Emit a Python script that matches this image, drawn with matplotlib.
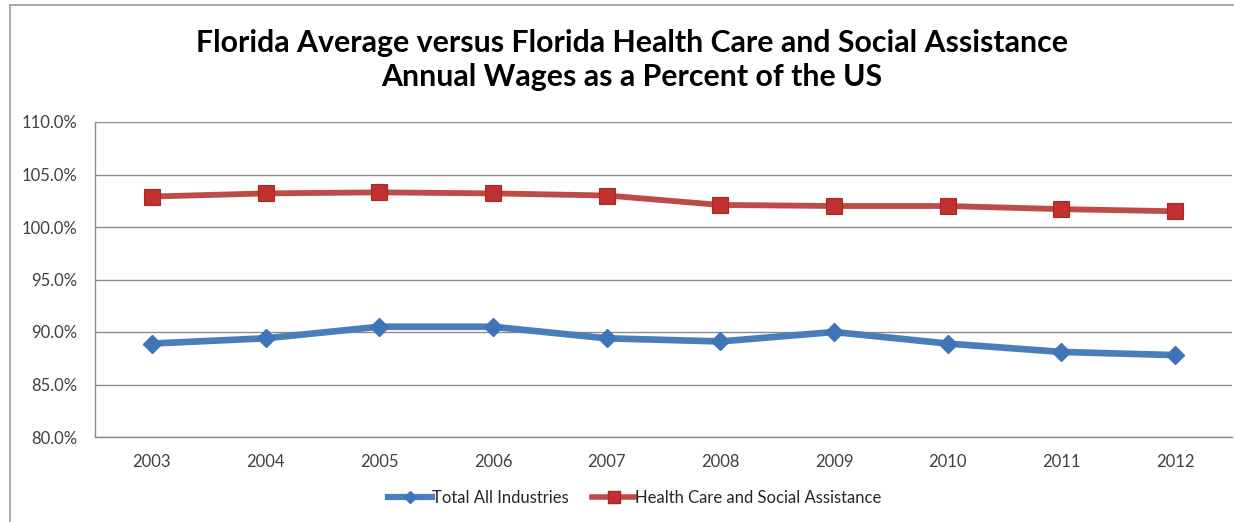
import matplotlib
matplotlib.use("Agg")
import matplotlib.pyplot as plt
from matplotlib.lines import Line2D
from matplotlib.ticker import FuncFormatter

years = ['2003', '2004', '2005', '2006', '2007', '2008', '2009', '2010', '2011', '2012']
total_all = [88.9, 89.4, 90.5, 90.5, 89.4, 89.1, 90.0, 88.9, 88.1, 87.8]
health_care = [102.9, 103.2, 103.3, 103.2, 103.0, 102.1, 102.0, 102.0, 101.7, 101.5]

title = ('Florida Average versus Florida Health Care and Social Assistance\n'
         'Annual Wages as a Percent of the US')

plt.rcParams['font.family'] = ['Lato', 'DejaVu Sans']

W, H = 1234, 522
fig = plt.figure(figsize=(W / 100, H / 100), dpi=100)
# plot area in pixels: left 95, right 1232, top 122, bottom 437
ax = fig.add_axes([95 / W, 1 - 437 / H, (1232 - 95) / W, (437 - 122) / H])

x = range(len(years))
ax.plot(x, total_all, color='#4A7EBB', lw=4.8, marker='D', ms=9,
        mfc='#3F74B8', mec='#3F74B8', solid_capstyle='round',
        label='Total All Industries', zorder=3)
ax.plot(x, health_care, color='#BE4B48', lw=4.2, marker='s', ms=12,
        mfc='#C0312F', mec='#A82826', mew=0.8,
        label='Health Care and Social Assistance', zorder=3)

ax.set_xlim(-0.5, len(years) - 0.5)
ax.set_ylim(80, 110)
ax.set_yticks(range(80, 111, 5))
ax.yaxis.set_major_formatter(FuncFormatter(lambda v, p: f'{v:.1f}%'))
ax.set_xticks(list(x))
ax.set_xticklabels(years)
ax.tick_params(axis='both', length=0, labelsize=12, colors='#404040')
ax.tick_params(axis='x', pad=12)
ax.tick_params(axis='y', pad=13)
ax.yaxis.grid(True, color='#8C8C8C', lw=1.0)
ax.set_axisbelow(True)
for side in ['top', 'right']:
    ax.spines[side].set_visible(False)
for side in ['left', 'bottom']:
    ax.spines[side].set_color('#8C8C8C')
    ax.spines[side].set_linewidth(1.0)

fig.text(632 / W, 1 - 60 / H, title, ha='center', va='center',
         fontsize=21.8, fontweight='bold', linespacing=1.3, color='black')

handles = [
    Line2D([], [], color='#4A7EBB', lw=4.5, marker='D', ms=6,
           mfc='#3F74B8', mec='#3F74B8'),
    Line2D([], [], color='#BE4B48', lw=4.0, marker='s', ms=9,
           mfc='#C0312F', mec='#A82826'),
]
fig.legend(handles, ['Total All Industries', 'Health Care and Social Assistance'],
           loc='center', bbox_to_anchor=(635 / W, 1 - 498 / H), ncol=2,
           frameon=False, fontsize=12, handlelength=2.6, handletextpad=0.0,
           columnspacing=1.4, labelcolor='#262626')

# chart border
fig.add_artist(Line2D([10 / W, 1], [1 - 5 / H, 1 - 5 / H],
                      transform=fig.transFigure, color='#999999', lw=1.2))
fig.add_artist(Line2D([10 / W, 10 / W], [0, 1 - 5 / H],
                      transform=fig.transFigure, color='#999999', lw=1.2))

fig.savefig('out.png', dpi=100, facecolor='white')
